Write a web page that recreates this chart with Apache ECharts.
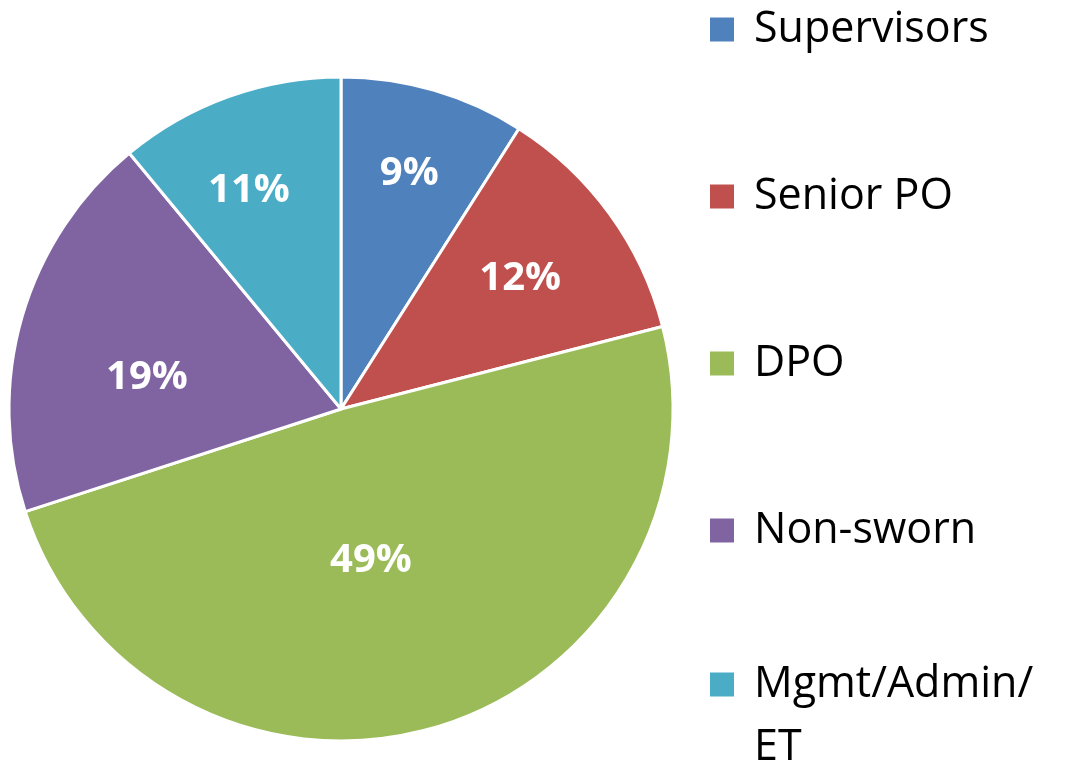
<!DOCTYPE html>
<html>
<head>
<meta charset="utf-8">
<script src="https://cdn.jsdelivr.net/npm/echarts@6/dist/echarts.min.js"></script>
<style>
  html, body { margin: 0; padding: 0; background: #fff; }
  #chart { width: 1066px; height: 766px; }
</style>
</head>
<body>
<div id="chart"></div>
<script>
// data
const categories = ["Supervisors", "Senior PO", "DPO", "Non-sworn", "Mgmt/Admin/ET"];
const shares = [9, 12, 49, 19, 11];
const colors = ["#4F81BD", "#C0504D", "#9BBB59", "#8064A2", "#4BACC6"];

// where each % label sits (Excel style): fraction of radius, and a small angle nudge in degrees
const labelRadius = [0.737, 0.667, 0.464, 0.592, 0.715];
const labelAngleShift = [0, 0, 5, -7, -3];

const pieCenter = [341, 409];
const pieRadius = 332;

const chart = echarts.init(document.getElementById("chart"));

const legendText = {
  fontFamily: "Open Sans",
  fontSize: 43,
  color: "#000",
};

const option = {
  animation: false,
  color: colors,
  legend: [
    {
      // first four items
      orient: "vertical",
      left: 708,
      top: 8,
      padding: 0,
      itemWidth: 26,
      itemHeight: 26,
      itemGap: 124,
      icon: "rect",
      selectedMode: false,
      data: categories.slice(0, 4),
      textStyle: Object.assign({ lineHeight: 40, padding: [0, 0, 0, 14] }, legendText),
    },
    {
      // last item wraps onto two lines; leading blank line keeps the first line level with the marker
      orient: "vertical",
      left: 708,
      top: 590,
      padding: 0,
      itemWidth: 26,
      itemHeight: 26,
      icon: "rect",
      selectedMode: false,
      data: categories.slice(4),
      formatter: (name) => "\n" + name.replace("Admin/", "Admin/\n"),
      textStyle: Object.assign({ lineHeight: 63, padding: [0, 0, 0, 14] }, legendText),
    },
  ],
  series: [
    {
      type: "pie",
      center: pieCenter,
      radius: pieRadius,
      startAngle: 90,
      clockwise: true,
      avoidLabelOverlap: false,
      itemStyle: {
        borderColor: "#fff",
        borderWidth: 3,
      },
      label: {
        show: true,
        position: "inside",
        formatter: "{c}%",
        color: "#fff",
        fontFamily: "Open Sans",
        fontWeight: "bold",
        fontSize: 40,
      },
      labelLine: { show: false },
      emphasis: { disabled: true },
      // move each label along / around its slice
      labelLayout: (params) => {
        const r = params.labelRect;
        const lx = r.x + r.width / 2;
        const ly = r.y + r.height / 2;
        const vx = lx - pieCenter[0];
        const vy = ly - pieCenter[1];
        const a = Math.atan2(vx, -vy) + labelAngleShift[params.dataIndex] * Math.PI / 180;
        const d = labelRadius[params.dataIndex] * pieRadius;
        const nx = pieCenter[0] + d * Math.sin(a);
        const ny = pieCenter[1] - d * Math.cos(a);
        return { dx: nx - lx, dy: ny - ly };
      },
      data: categories.map((name, i) => ({ name: name, value: shares[i] })),
    },
  ],
};

chart.setOption(option);
</script>
</body>
</html>
